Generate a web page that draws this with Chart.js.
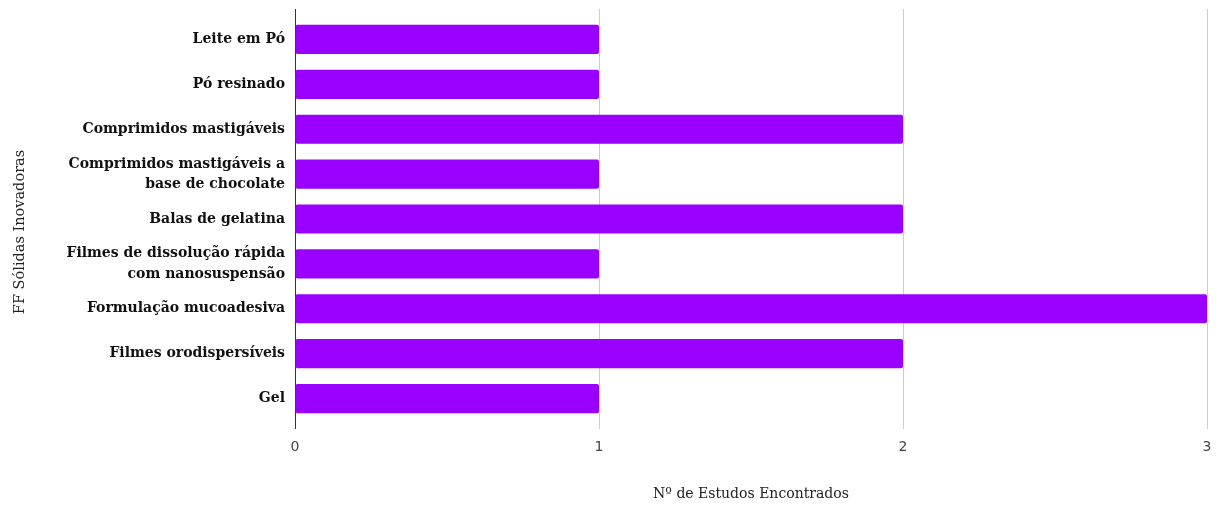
<!DOCTYPE html>
<html>
<head>
<meta charset="utf-8">
<script src="https://cdn.jsdelivr.net/npm/chart.js@4"></script>
<style>
  html, body { margin: 0; padding: 0; background: #fff; }
  #wrap { width: 1219px; height: 505px; position: relative; }
</style>
</head>
<body>
<div id="wrap"><canvas id="chart"></canvas></div>
<script>
// ------------------------------------------------------------
// Data
// ------------------------------------------------------------
const categories = [
  'Leite em Pó',
  'Pó resinado',
  'Comprimidos mastigáveis',
  ['Comprimidos mastigáveis a', 'base de chocolate'],
  'Balas de gelatina',
  ['Filmes de dissolução rápida', 'com nanosuspensão'],
  'Formulação mucoadesiva',
  'Filmes orodispersíveis',
  'Gel'
];
const studyCounts = [1, 1, 2, 1, 2, 1, 3, 2, 1];
const xTicks = [0, 1, 2, 3];

const xTitle = 'Nº de Estudos Encontrados';
const yTitle = 'FF Sólidas Inovadoras';

// extend vertical grid lines a little above the plot area,
// and draw the y title (sits a bit below the middle in the original)
const extras = {
  id: 'extras',
  beforeDatasetsDraw(chart) {
    const { ctx, chartArea, scales } = chart;
    ctx.save();
    xTicks.forEach(v => {
      const x = Math.round(scales.x.getPixelForValue(v)) + 0.5;
      ctx.strokeStyle = v === 0 ? '#333333' : '#cccccc';
      ctx.lineWidth = 1;
      ctx.beginPath();
      ctx.moveTo(x, chartArea.top - 8);
      ctx.lineTo(x, chartArea.top);
      ctx.stroke();
    });
    ctx.restore();
  },
  afterDraw(chart) {
    const { ctx, chartArea } = chart;
    ctx.save();
    ctx.translate(20, (chartArea.top + chartArea.bottom) / 2 + 13);
    ctx.rotate(-Math.PI / 2);
    ctx.font = '14.5px "DejaVu Serif"';
    ctx.fillStyle = '#222222';
    ctx.textAlign = 'center';
    ctx.textBaseline = 'middle';
    ctx.fillText(yTitle, 0, 0);
    ctx.restore();
  }
};

new Chart(document.getElementById('chart'), {
  type: 'bar',
  data: {
    labels: categories,
    datasets: [{
      data: studyCounts,
      backgroundColor: '#9900ff',
      borderRadius: 2,
      borderSkipped: false,
      categoryPercentage: 1,
      barPercentage: 0.65,
    }]
  },
  options: {
    indexAxis: 'y',
    responsive: true,
    maintainAspectRatio: false,
    animation: false,
    layout: { padding: { top: 17, right: 12, left: 0, bottom: 0 } },
    plugins: { legend: { display: false }, tooltip: { enabled: false } },
    scales: {
      x: {
        min: 0,
        max: 3,
        afterBuildTicks: s => { s.ticks = xTicks.map(v => ({ value: v })); },
        afterFit: s => {
          s.height = 505 - 421;
          s.paddingLeft = 0;
          s.paddingRight = 0;
        },
        grid: {
          color: c => (c.tick && c.tick.value === 0 ? '#333333' : '#cccccc'),
          tickLength: 8,
        },
        border: { display: false },
        ticks: {
          color: '#444444',
          padding: 10,
          font: { family: 'DejaVu Sans', size: 14 },
        },
        title: {
          display: true,
          text: xTitle,
          color: '#222222',
          padding: { top: 0, bottom: 2 },
          font: { family: 'DejaVu Serif', size: 14 },
        }
      },
      y: {
        afterFit: s => {
          s.width = 295;
          s.paddingTop = 0;
          s.paddingBottom = 0;
        },
        grid: { display: false, drawTicks: false },
        border: { display: false },
        ticks: {
          autoSkip: false,
          color: '#111111',
          padding: 10,
          font: { family: 'DejaVu Serif', size: 14, weight: 'bold', lineHeight: 1.45 },
        },
        title: { display: false }
      }
    }
  },
  plugins: [extras]
});
</script>
</body>
</html>
